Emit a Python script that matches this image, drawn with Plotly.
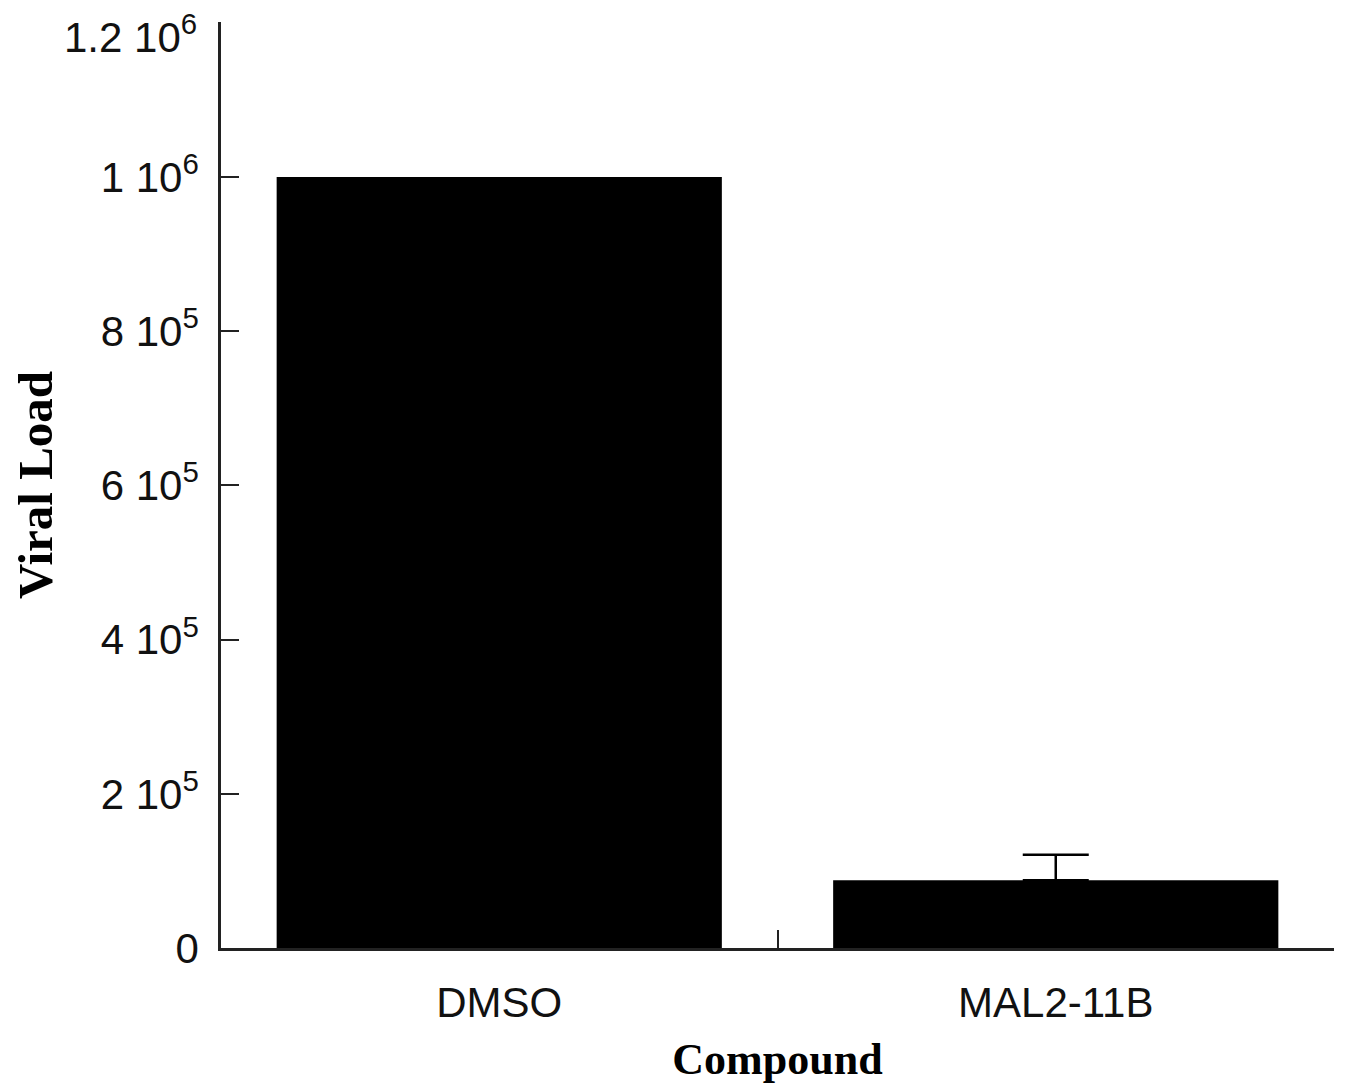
import plotly.graph_objects as go

categories = ["DMSO", "MAL2-11B"]
viral_load = [1000000, 88000]
error_category = ["MAL2-11B"]
error_value = [88000]
error_plus = [33000]

tick_vals = [0, 200000, 400000, 600000, 800000, 1000000, 1200000]
tick_text = ["0", "2 10<sup>5</sup>", "4 10<sup>5</sup>", "6 10<sup>5</sup>",
             "8 10<sup>5</sup>", "1 10<sup>6</sup>", ""]
top_tick_value = 1200000
top_tick_text = "1.2 10<sup>6</sup>"

fig = go.Figure()
fig.add_trace(go.Bar(
    x=categories, y=viral_load,
    marker=dict(color="black", line=dict(width=0)),
))
fig.add_trace(go.Scatter(
    x=error_category, y=error_value, mode="markers",
    marker=dict(size=1, color="black", opacity=0),
    error_y=dict(type="data", symmetric=False, array=error_plus,
                 arrayminus=[0], color="black", thickness=2.5, width=33),
    hoverinfo="skip",
))

fig.add_annotation(
    x=0, xref="paper", y=top_tick_value, yref="y",
    text=top_tick_text, showarrow=False,
    xanchor="right", yanchor="middle", xshift=-22, yshift=-11,
    font=dict(size=42, family="Liberation Sans, Arial", color="#111"),
)

fig.update_layout(
    width=1338, height=1080,
    margin=dict(l=213, r=12, t=14, b=140),
    paper_bgcolor="white", plot_bgcolor="white",
    bargap=0.2, showlegend=False,
    font=dict(family="Liberation Sans, Arial", color="black"),
)
fig.update_xaxes(
    automargin=False,
    showline=True, linecolor="#222", linewidth=2.5,
    ticks="inside", tickson="boundaries", ticklen=18, tickwidth=2, tickcolor="#222",
    tickfont=dict(size=42, family="Liberation Sans, Arial", color="#111"),
    ticklabelstandoff=16,
    showgrid=False, zeroline=False,
    title=dict(text="<b>Compound</b>", font=dict(size=44, family="Liberation Serif, Times New Roman", color="black"), standoff=19),
)
fig.update_yaxes(
    automargin=False,
    range=[0, 1201000], tickvals=tick_vals, ticktext=tick_text,
    showline=True, linecolor="#222", linewidth=2.5,
    ticks="inside", ticklen=18, tickwidth=2, tickcolor="#222",
    tickfont=dict(size=42, family="Liberation Sans, Arial", color="#111"),
    ticklabelstandoff=11,
    showgrid=False, zeroline=False,
    title=dict(text="<b>Viral Load</b>", font=dict(size=49, family="Liberation Serif, Times New Roman", color="black"), standoff=36),
)

fig.write_html("out.html")
